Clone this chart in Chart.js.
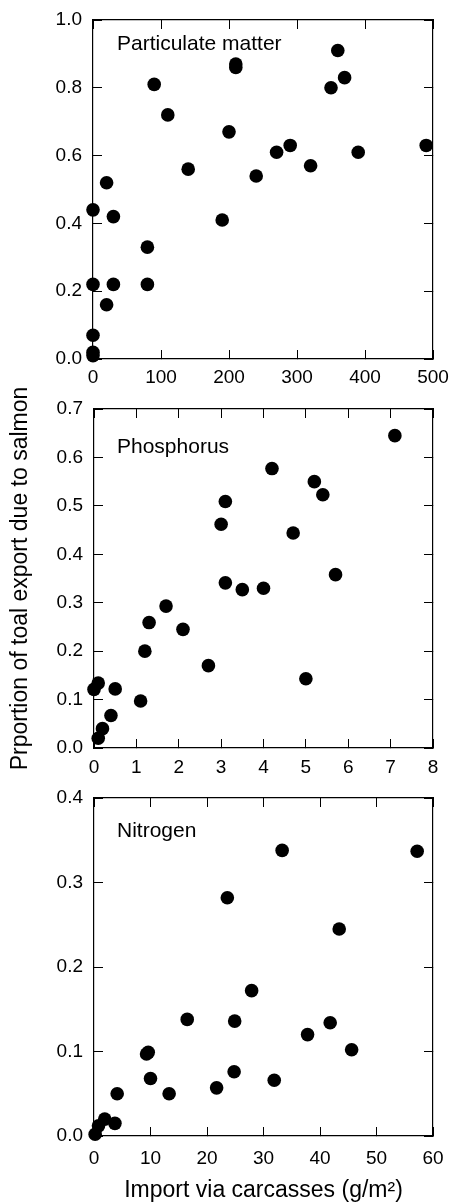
<!DOCTYPE html>
<html>
<head>
<meta charset="utf-8">
<script src="https://cdn.jsdelivr.net/npm/chart.js@4"></script>
<style>
  html, body { margin: 0; padding: 0; background: #fff; }
  #wrap { position: relative; width: 449px; height: 1204px; overflow: hidden; }
  #wrap canvas { position: absolute; left: 0; }
</style>
</head>
<body>
<div id="wrap">
  <canvas id="pm" width="449" height="395" style="top:0"></canvas>
  <canvas id="phos" width="449" height="415" style="top:370px"></canvas>
  <canvas id="nitro" width="449" height="419" style="top:785px"></canvas>
</div>
<script>
// particulate matter
const pmImport = [0, 0, 0, 0, 0, 20, 20, 30, 30, 80, 80, 90, 110, 140, 190, 200, 210, 210, 240, 270, 290, 320, 350, 360, 370, 390, 490];
const pmShare = [0.44, 0.22, 0.07, 0.02, 0.01, 0.52, 0.16, 0.42, 0.22, 0.33, 0.22, 0.81, 0.72, 0.56, 0.41, 0.67, 0.87, 0.86, 0.54, 0.61, 0.63, 0.57, 0.80, 0.91, 0.83, 0.61, 0.63];
const pmXTicks = [0, 100, 200, 300, 400, 500];
const pmYTicks = [0, 0.2, 0.4, 0.6, 0.8, 1.0];

// phosphorus
const phImport = [0, 0.1, 0.1, 0.2, 0.4, 0.5, 1.1, 1.2, 1.3, 1.7, 2.1, 2.7, 3.0, 3.1, 3.1, 3.5, 4.0, 4.2, 4.7, 5.0, 5.2, 5.4, 5.7, 7.1];
const phShare = [0.121, 0.134, 0.02, 0.04, 0.067, 0.122, 0.097, 0.2, 0.259, 0.293, 0.245, 0.17, 0.462, 0.509, 0.341, 0.327, 0.33, 0.577, 0.444, 0.143, 0.55, 0.523, 0.358, 0.645];
const phXTicks = [0, 1, 2, 3, 4, 5, 6, 7, 8];
const phYTicks = [0, 0.1, 0.2, 0.3, 0.4, 0.5, 0.6, 0.7];

// nitrogen
const nImport = [0.2, 0.8, 1.9, 3.7, 4.1, 9.3, 9.6, 10.0, 13.3, 16.5, 21.7, 23.6, 24.8, 24.9, 27.9, 31.9, 33.3, 37.8, 41.8, 43.4, 45.6, 57.2];
const nShare = [0.002, 0.012, 0.02, 0.015, 0.05, 0.097, 0.099, 0.068, 0.05, 0.138, 0.057, 0.282, 0.076, 0.136, 0.172, 0.066, 0.338, 0.12, 0.134, 0.245, 0.102, 0.337];
const nXTicks = [0, 10, 20, 30, 40, 50, 60];
const nYTicks = [0, 0.1, 0.2, 0.3, 0.4];

const yTitle = "Prportion of toal export due to salmon";
const xTitle = "Import via carcasses (g/m²)";

const FONT = '"Liberation Sans", Arial, Helvetica, sans-serif';
Chart.defaults.font.family = FONT;
Chart.defaults.color = "#000";

function panelLabel(text, dx, dy) {
  return {
    id: "panelLabel",
    afterDraw(chart) {
      const ctx = chart.ctx;
      const area = chart.chartArea;
      ctx.save();
      ctx.font = "21px " + FONT;
      ctx.fillStyle = "#000";
      ctx.textBaseline = "alphabetic";
      ctx.fillText(text, area.left + dx, area.top + dy);
      ctx.restore();
    }
  };
}

// fixed axis size, and no extra room for overhanging labels
function fixSize(prop, size) {
  return s => {
    s[prop] = size;
    s.paddingLeft = s.paddingRight = s.paddingTop = s.paddingBottom = 0;
  };
}

// ticks point inward on all four sides
const tickGrid = { drawOnChartArea: false, drawTicks: true, tickLength: -9, tickColor: "#000", tickWidth: 1 };
const frame = { display: true, color: "#000", width: 1.2 };

function makeChart(id, p) {
  const points = p.xs.map((x, i) => ({ x: x, y: p.ys[i] }));
  const xRange = { min: p.xTicks[0], max: p.xTicks[p.xTicks.length - 1] };
  const yRange = { min: p.yTicks[0], max: p.yTicks[p.yTicks.length - 1] };

  new Chart(document.getElementById(id), {
    type: "scatter",
    data: {
      datasets: [{
        data: points,
        backgroundColor: "#000",
        borderWidth: 0,
        pointRadius: 6.8,
        pointHoverRadius: 6.8,
        clip: false
      }]
    },
    options: {
      responsive: false,
      animation: false,
      events: [],
      layout: { padding: { top: p.padTop, right: 16, left: 0, bottom: 0 } },
      plugins: { legend: { display: false }, tooltip: { enabled: false } },
      scales: {
        x: {
          type: "linear", position: "bottom", ...xRange,
          afterBuildTicks: s => { s.ticks = p.xTicks.map(v => ({ value: v })); },
          afterFit: fixSize("height", p.xAxisH),
          grid: tickGrid, border: frame,
          ticks: { font: { size: 19 }, padding: p.xTickPad, autoSkip: false, maxRotation: 0, callback: v => v.toFixed(0) },
          title: p.xTitle ? { display: true, text: p.xTitle, font: { size: 23 }, padding: { top: 0, bottom: 0 } } : { display: false }
        },
        x2: {
          type: "linear", position: "top", ...xRange,
          afterBuildTicks: s => { s.ticks = p.xTicks.map(v => ({ value: v })); },
          afterFit: fixSize("height", 0),
          grid: tickGrid, border: frame,
          ticks: { display: false }
        },
        y: {
          type: "linear", position: "left", ...yRange,
          afterBuildTicks: s => { s.ticks = p.yTicks.map(v => ({ value: v })); },
          afterFit: fixSize("width", p.yAxisW),
          grid: tickGrid, border: frame,
          ticks: { font: { size: 19 }, padding: 20, autoSkip: false, callback: v => v.toFixed(1) },
          title: p.yTitle ? { display: true, text: p.yTitle, font: { size: 23 }, padding: { top: 7, bottom: 0 } } : { display: false }
        },
        y2: {
          type: "linear", position: "right", ...yRange,
          afterBuildTicks: s => { s.ticks = p.yTicks.map(v => ({ value: v })); },
          afterFit: fixSize("width", 0),
          grid: tickGrid, border: frame,
          ticks: { display: false }
        }
      }
    },
    plugins: [panelLabel(p.label, p.labelDx, p.labelDy)]
  });
}

makeChart("pm", {
  xs: pmImport, ys: pmShare, xTicks: pmXTicks, yTicks: pmYTicks,
  padTop: 20, xAxisH: 36, yAxisW: 93, xTickPad: 16,
  label: "Particulate matter", labelDx: 24, labelDy: 30
});

makeChart("phos", {
  xs: phImport, ys: phShare, xTicks: phXTicks, yTicks: phYTicks,
  padTop: 39, xAxisH: 37, yAxisW: 94, xTickPad: 17,
  label: "Phosphorus", labelDx: 23, labelDy: 44,
  yTitle: yTitle
});

makeChart("nitro", {
  xs: nImport, ys: nShare, xTicks: nXTicks, yTicks: nYTicks,
  padTop: 13, xAxisH: 68, yAxisW: 94, xTickPad: 20,
  label: "Nitrogen", labelDx: 23, labelDy: 39,
  xTitle: xTitle
});
</script>
</body>
</html>
